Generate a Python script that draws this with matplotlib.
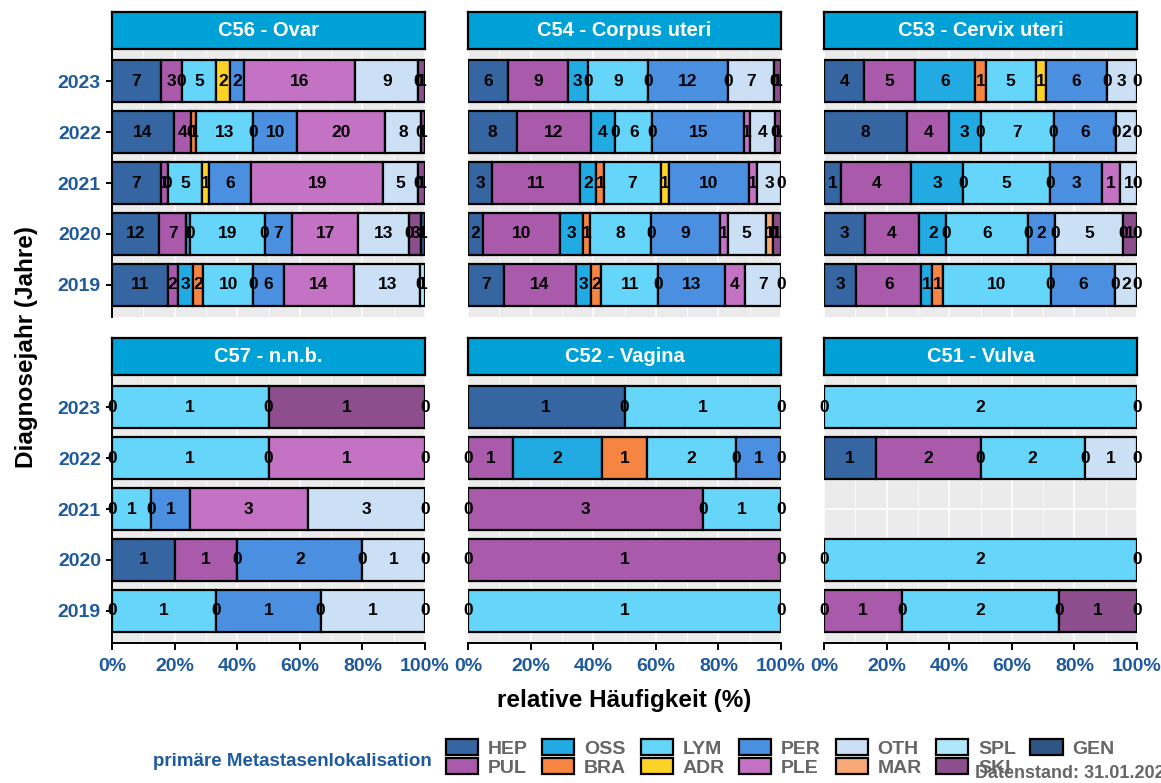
import matplotlib
matplotlib.use("Agg")
import matplotlib.pyplot as plt
from matplotlib.patches import Patch
from matplotlib.ticker import MultipleLocator, FuncFormatter

plt.rcParams['font.family'] = ['Liberation Sans', 'DejaVu Sans']
plt.rcParams['font.weight'] = 'bold'

# stack order (left -> right) and legend order
categories = ['HEP', 'PUL', 'OSS', 'BRA', 'LYM', 'ADR', 'PER',
              'PLE', 'OTH', 'MAR', 'SPL', 'SKI', 'GEN']
colors = ['#3566a1', '#a95aab', '#22abe2', '#f58540', '#66d5fa', '#fdd227', '#4a8fe0',
          '#c472c4', '#cbe0f4', '#f8a877', '#b0e8fb', '#8c4e8c', '#2f5585']
years = ['2019', '2020', '2021', '2022', '2023']

N = None
# rows follow years, columns follow categories; None = not present, 0 = zero label
ovar = [
    [11, 2, 3, 2, 10, 0, 6, 14, 13, 0, 1, N, N],
    [12, 7, 1, 0, 19, 0, 7, 17, 13, N, 0, 3, 1],
    [7, 1, 0, N, 5, 1, 6, 19, 5, N, 0, 1, N],
    [14, 4, 0, 1, 13, 0, 10, 20, 8, N, 0, 1, N],
    [7, 3, 0, N, 5, 2, 2, 16, 9, N, 0, 1, N],
]
corpus = [
    [7, 14, 3, 2, 11, 0, 13, 4, 7, N, 0, N, N],
    [2, 10, 3, 1, 8, 0, 9, 1, 5, 1, 0, 1, N],
    [3, 11, 2, 1, 7, 1, 10, 1, 3, N, 0, N, N],
    [8, 12, 4, 0, 6, 0, 15, 1, 4, N, 0, 1, N],
    [6, 9, 3, 0, 9, 0, 12, 0, 7, N, 0, 1, N],
]
cervix = [
    [3, 6, 1, 1, 10, 0, 6, 0, 2, N, 0, N, N],
    [3, 4, 2, 0, 6, 0, 2, 0, 5, 0, N, 1, 0],
    [1, 4, 3, 0, 5, 0, 3, 1, 1, N, 0, N, N],
    [8, 4, 3, 0, 7, 0, 6, 0, 2, N, 0, N, N],
    [4, 5, 6, 1, 5, 1, 6, 0, 3, N, 0, N, N],
]
nnb = [
    [0, N, N, N, 1, 0, 1, 0, 1, N, 0, N, N],
    [1, 1, 0, N, N, N, 2, 0, 1, N, 0, N, N],
    [0, N, N, N, 1, 0, 1, 3, 3, N, 0, N, N],
    [0, N, N, N, 1, 0, N, 1, N, N, N, N, 0],
    [0, N, N, N, 1, 0, N, N, N, N, N, 1, 0],
]
vagina = [
    [0, N, N, N, 1, N, N, N, N, N, 0, N, N],
    [0, 1, N, N, N, N, N, N, N, N, 0, N, N],
    [0, 3, 0, N, 1, N, N, N, N, N, 0, N, N],
    [0, 1, 2, 1, 2, 0, 1, N, N, N, 0, N, N],
    [1, N, 0, N, 1, N, N, N, N, N, 0, N, N],
]
vulva = [
    [0, 1, 0, N, 2, 0, N, N, N, N, N, 1, 0],
    [0, N, N, N, 2, N, N, N, N, N, 0, N, N],
    [N, N, N, N, N, N, N, N, N, N, N, N, N],
    [1, 2, 0, N, 2, 0, N, N, 1, N, 0, N, N],
    [0, N, N, N, 2, N, N, N, N, N, 0, N, N],
]

panels = [('C56 - Ovar', ovar), ('C54 - Corpus uteri', corpus), ('C53 - Cervix uteri', cervix),
          ('C57 - n.n.b.', nnb), ('C52 - Vagina', vagina), ('C51 - Vulva', vulva)]

W, H = 1161, 783
fig = plt.figure(figsize=(W / 100, H / 100), dpi=100)

tick_col = '#1f5a9c'
col_x = [112, 468, 824]
panel_w = 313
row_y = [(12, 49, 317), (338, 375, 643)]  # strip top, panel top, panel bottom


def px_axes(x0, y0, x1, y1):
    return fig.add_axes([x0 / W, 1 - y1 / H, (x1 - x0) / W, (y1 - y0) / H])


for idx, (title, data) in enumerate(panels):
    r, c = divmod(idx, 3)
    st, pt, pb = row_y[r]
    x0 = col_x[c]
    ax = px_axes(x0, pt, x0 + panel_w, pb)
    ax.set_facecolor('#ebebeb')
    ax.set_xlim(0, 1)
    ax.set_ylim(-0.63, 4.63)
    ax.xaxis.set_major_locator(MultipleLocator(0.2))
    ax.xaxis.set_minor_locator(MultipleLocator(0.1))
    ax.set_yticks(range(len(years)))
    ax.grid(which='major', color='white', lw=1.1, zorder=0)
    ax.grid(which='minor', axis='x', color='white', lw=0.55, zorder=0)
    ax.set_axisbelow(True)
    for s in ax.spines.values():
        s.set_visible(False)

    for yi, row in enumerate(data):
        vals = [v for v in row if v is not None]
        total = sum(vals)
        if total == 0:
            continue
        cum = 0
        for ci, v in enumerate(row):
            if v is None:
                continue
            if v > 0:
                ax.barh(yi, v / total, left=cum / total, height=0.82, color=colors[ci],
                        edgecolor='black', lw=1.6, zorder=2)
                xl = (cum + v / 2) / total
            else:
                xl = cum / total
            ax.text(xl, yi, str(v), ha='center', va='center', fontsize=12.5,
                    fontweight='bold', color='black', zorder=3, clip_on=False)
            cum += v

    if c == 0:
        ax.spines['left'].set_visible(True)
        ax.spines['left'].set_linewidth(1.4)
        ax.set_yticklabels(years, color=tick_col, fontsize=14, fontweight='bold')
        ax.tick_params(axis='y', length=4, width=1.4, pad=4)
    else:
        ax.tick_params(axis='y', length=0, labelleft=False)
    if r == 1:
        ax.spines['bottom'].set_visible(True)
        ax.spines['bottom'].set_linewidth(1.4)
        ax.xaxis.set_major_formatter(FuncFormatter(lambda v, p: f'{v * 100:.0f}%'))
        ax.tick_params(axis='x', which='major', length=5, width=1.4, labelsize=14,
                       labelcolor=tick_col, pad=6)
        for lab in ax.get_xticklabels():
            lab.set_fontweight('bold')
    else:
        ax.tick_params(axis='x', which='major', length=0, labelbottom=False)
    ax.tick_params(axis='x', which='minor', length=0)

    sax = px_axes(x0, st, x0 + panel_w, pt)
    sax.set_facecolor('#00a1d6')
    sax.set_xticks([])
    sax.set_yticks([])
    for s in sax.spines.values():
        s.set_linewidth(1.6)
        s.set_color('black')
    sax.text(0.5, 0.5, title, ha='center', va='center', color='white',
             fontsize=14.5, fontweight='bold', transform=sax.transAxes)

fig.text(624 / W, 1 - 700 / H, 'relative Häufigkeit (%)', ha='center', va='center',
         fontsize=17.5, fontweight='bold', color='black')
fig.text(27 / W, 1 - 347 / H, 'Diagnosejahr (Jahre)', ha='center', va='center',
         rotation=90, fontsize=17.5, fontweight='bold', color='black')

handles = [Patch(facecolor=col, edgecolor='black', lw=1.6) for col in colors]
fig.legend(handles, categories, ncol=7, loc='center left',
           bbox_to_anchor=(446 / W, 1 - 758 / H), frameon=False,
           prop={'weight': 'bold', 'size': 14}, labelcolor='#666666',
           handlelength=1.65, handleheight=0.85, handletextpad=0.5,
           columnspacing=0.75, labelspacing=0.05, borderpad=0, borderaxespad=0)
fig.text(153 / W, 1 - 761 / H, 'primäre Metastasenlokalisation', ha='left', va='center',
         fontsize=13.5, fontweight='bold', color=tick_col)
fig.text(975 / W, 1 - 773 / H, 'Datenstand: 31.01.2024', ha='left', va='center',
         fontsize=13, fontweight='bold', color='#666666')

fig.savefig('out.png', dpi=100)
